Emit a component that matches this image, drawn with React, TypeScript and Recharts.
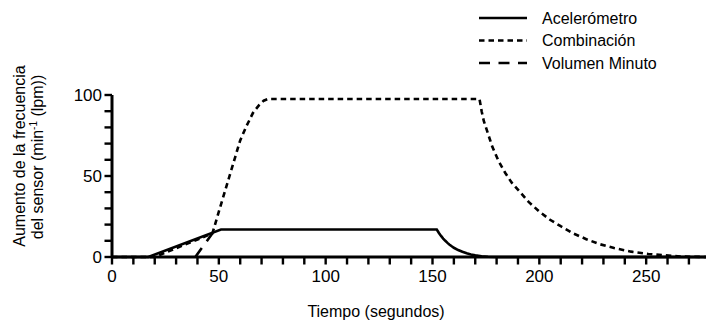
import { LineChart, Line, XAxis, YAxis } from 'recharts'

// seconds vs sensor rate increase (min-1)
const ACCEL_T = [0, 17, 51, 152, 153, 154, 155, 156, 157, 158, 159, 160, 162, 164, 166, 168, 170, 173, 176, 180, 278]
const ACCEL_V = [0, 0, 17, 17, 14.8, 13, 11.4, 10, 8.7, 7.6, 6.6, 5.7, 4.3, 3.2, 2.3, 1.6, 1.0, 0.5, 0.2, 0, 0]

const COMBO_T = [0, 20, 47, 50, 55, 60, 63, 66, 69, 71, 73, 172, 173, 174, 176, 178, 181, 184, 187, 191, 195, 200, 205, 210, 216, 222, 228, 235, 243, 251, 259, 266, 278]
const COMBO_V = [0, 0, 14.6, 28, 50, 72, 81, 89, 94, 96.5, 97.5, 97.5, 90, 84, 76, 68, 59, 52, 46, 40, 34, 28, 23, 19, 14.5, 11, 8, 5.5, 3.3, 1.9, 1.0, 0.3, 0]

const VM_T = [39, 47]
const VM_V = [0, 14.6]

const X_TICKS = [0, 10, 20, 30, 40, 50, 60, 70, 80, 90, 100, 110, 120, 130, 140, 150, 160, 170, 180, 190, 200, 210, 220, 230, 240, 250, 260, 270]
const Y_TICKS = [0, 10, 20, 30, 40, 50, 60, 70, 80, 90, 100]

const SERIES = [
  { name: 'Acelerómetro', t: ACCEL_T, v: ACCEL_V, dash: undefined },
  { name: 'Combinación', t: COMBO_T, v: COMBO_V, dash: '5.5 4' },
  { name: 'Volumen Minuto', t: VM_T, v: VM_V, dash: '11 8.5' },
]

const FONT = '"Liberation Sans", Arial, sans-serif'

const toPoints = (t: number[], v: number[]) => t.map((x, i) => ({ t: x, v: v[i] }))

function XTick(props: any) {
  const { x, y, payload } = props
  return (
    <g>
      <rect x={x - 1.2} y={y - 6} width={2.4} height={7.5} fill="#000" />
      {payload.value % 50 === 0 && (
        <text x={x} y={y + 19} textAnchor="middle" fontSize={17} fontFamily={FONT} fill="#000">
          {payload.value}
        </text>
      )}
    </g>
  )
}

function YTick(props: any) {
  const { x, y, payload } = props
  return (
    <g>
      <rect x={x - 1.5} y={y - 1.2} width={7.5} height={2.4} fill="#000" />
      {payload.value % 50 === 0 && (
        <text x={x - 4} y={y + 6} textAnchor="end" fontSize={17} fontFamily={FONT} fill="#000">
          {payload.value}
        </text>
      )}
    </g>
  )
}

function LegendBox() {
  return (
    <svg width={220} height={70} style={{ position: 'absolute', left: 478, top: 6, fontFamily: FONT }}>
      {SERIES.map((s, i) => (
        <g key={s.name}>
          <line x1={1} x2={49} y1={12 + i * 22.5} y2={12 + i * 22.5} stroke="#000" strokeWidth={2.5} strokeDasharray={s.dash} />
          <text x={64} y={17.5 + i * 22.5} fontSize={16} fill="#000">{s.name}</text>
        </g>
      ))}
    </svg>
  )
}

export default function App() {
  return (
    <div style={{ position: 'absolute', left: 0, top: 0, width: 706, height: 325, background: '#fff', fontFamily: FONT }}>
      <LineChart width={706} height={325} margin={{ top: 95, right: 0, left: 0, bottom: 0 }}>
        <XAxis
          type="number"
          dataKey="t"
          domain={[0, 278]}
          ticks={X_TICKS}
          interval={0}
          allowDataOverflow
          height={68}
          tickSize={6}
          tickMargin={0}
          tick={<XTick />}
          tickLine={false}
          axisLine={{ stroke: '#000', strokeWidth: 3 }}
        />
        <YAxis
          type="number"
          dataKey="v"
          domain={[0, 100]}
          ticks={Y_TICKS}
          interval={0}
          width={112}
          tickSize={6}
          tickMargin={0}
          tick={<YTick />}
          tickLine={false}
          axisLine={{ stroke: '#000', strokeWidth: 3 }}
        />
        {SERIES.map(s => (
          <Line
            key={s.name}
            data={toPoints(s.t, s.v)}
            dataKey="v"
            name={s.name}
            type="linear"
            stroke="#000"
            strokeWidth={2.6}
            strokeDasharray={s.dash}
            dot={false}
            activeDot={false}
            isAnimationActive={false}
          />
        ))}
        <text x={376} y={317} textAnchor="middle" fontSize={16} fontFamily={FONT} fill="#000">
          Tiempo (segundos)
        </text>
        <text x={25} y={156} textAnchor="middle" fontSize={16} fontFamily={FONT} fill="#000" transform="rotate(-90 25 156)">
          Aumento de la frecuencia
        </text>
        <text x={43} y={157} textAnchor="middle" fontSize={16} fontFamily={FONT} fill="#000" transform="rotate(-90 43 157)">
          del sensor (min<tspan fontSize={10} dy={-6}>-1</tspan><tspan dy={6}> (lpm))</tspan>
        </text>
      </LineChart>
      <LegendBox />
    </div>
  )
}
